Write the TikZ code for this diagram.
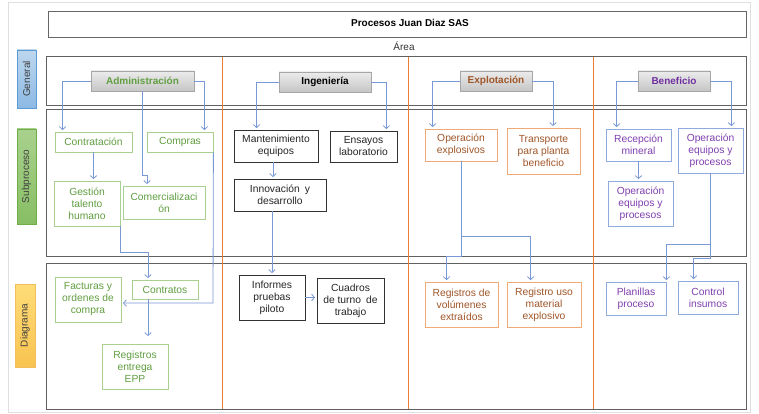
\documentclass[tikz,border=0pt]{standalone}
\usepackage{fontspec}
\setmainfont{Liberation Sans}
\usetikzlibrary{arrows.meta,calc}
\definecolor{conn}{RGB}{120,152,214}
\definecolor{gborder}{RGB}{169,208,142}
\definecolor{gtext}{RGB}{96,158,64}
\definecolor{oborder}{RGB}{240,170,120}
\definecolor{otext}{RGB}{160,86,40}
\definecolor{bborder}{RGB}{143,170,220}
\definecolor{btext}{RGB}{128,64,176}
\definecolor{kborder}{RGB}{50,50,50}
\definecolor{orangeline}{RGB}{237,125,49}
\definecolor{rowframe}{RGB}{96,96,96}
\definecolor{genborder}{RGB}{91,155,213}
\definecolor{gentop}{RGB}{189,215,238}
\definecolor{genbot}{RGB}{140,185,228}
\definecolor{subborder}{RGB}{112,173,71}
\definecolor{subtop}{RGB}{169,209,142}
\definecolor{subbot}{RGB}{135,190,100}
\definecolor{diaborder}{RGB}{240,190,90}
\definecolor{diatop}{RGB}{255,220,120}
\definecolor{diabot}{RGB}{248,195,80}
\definecolor{benhead}{RGB}{112,48,160}
\tikzset{
  sz/.style 2 args={minimum width=#1pt,minimum height=#2pt},
  box/.style={draw, line width=0.8pt, align=center, inner sep=1pt, font=\fontsize{10.3}{12}\selectfont},
  gbox/.style={box, draw=gborder, text=gtext},
  kbox/.style={box, draw=kborder, text=black!85},
  obox/.style={box, draw=oborder, text=otext},
  bbox/.style={box, draw=bborder, text=btext},
  head/.style={draw=gray!70, line width=0.6pt, top color=gray!15, bottom color=gray!45, font=\bfseries\fontsize{10}{12}\selectfont, inner sep=1pt},
  side/.style={draw, line width=0.8pt, rotate=90, inner sep=1pt, text=black!75, font=\fontsize{10}{12}\selectfont},
  ln/.style={draw=conn, line width=0.8pt},
  arr/.style={ln, -{Straight Barb[length=3pt,width=6.5pt]}, shorten >=1.5pt},
  rowbox/.style={draw=rowframe, line width=1pt},
  vline/.style={draw=orangeline, line width=1pt}
}
\begin{document}
\begin{tikzpicture}[x=1pt,y=-1pt]
% background and outer frame
\fill[white] (0,0) rectangle (759,414);
\draw[gray!25, line width=1pt] (8,3) rectangle (750,412);

% title
\node[draw=gray!80!black, line width=0.8pt, sz={698}{26}] (title) at (397,24) {};
\node[font=\bfseries\fontsize{10}{12}\selectfont] (titletext) at (410,23) {Procesos Juan Diaz SAS};
\node[font=\fontsize{10}{12}\selectfont, text=black!80] (area) at (404,46) {Área};

% rows
\draw[rowbox] (46,57) rectangle (746,106);
\draw[rowbox] (46,110) rectangle (746,256);
\draw[rowbox] (46,263) rectangle (746,409);

% column separators
\draw[vline] (222,57) -- (222,409);
\draw[vline] (408,57) -- (408,409);
\draw[vline] (593,57) -- (593,409);

% side labels
\node[side, draw=genborder, top color=gentop, bottom color=genbot, sz={58}{19}] (lgeneral) at (26.5,79) {General};
\node[side, draw=subborder, top color=subtop, bottom color=subbot, sz={95}{19}] (lsub) at (26.5,176.5) {Subproceso};
\node[side, draw=diaborder, top color=diatop, bottom color=diabot, sz={83}{20}] (ldiag) at (25,325.5) {Diagrama};

% headers
\node[head, text=gtext, sz={103}{20}] (adm) at (142.5,81) {Administración};
\node[head, text=black, sz={92}{20}] (ing) at (325,82) {Ingeniería};
\node[head, text=otext, sz={72}{20}] (expl) at (496,81) {Explotación};
\node[head, text=benhead, sz={72}{20}] (benef) at (674,81) {Beneficio};

% Administracion boxes
\node[gbox, sz={77}{20}] (contrat) at (93.5,142) {Contratación};
\node[gbox, sz={66}{20}] (compras) at (180,142) {Compras};
\node[gbox, sz={66}{45}] (gestion) at (87,203.5) {Gestión\\talento\\humano};
\node[gbox, sz={82}{33}] (comer) at (164,202.5) {Comercializaci\\ón};
\node[gbox, sz={66}{45}] (facturas) at (88,299.5) {Facturas y\\ordenes de\\compra};
\node[gbox, sz={66}{19}] (contratos) at (165,289.5) {Contratos};
\node[gbox, sz={66}{45}] (regepp) at (135,366.5) {Registros\\entrega\\EPP};

% Ingenieria boxes
\node[kbox, sz={84}{32}] (mant) at (276,146) {Mantenimiento\\equipos};
\node[kbox, sz={67}{31}] (ensayos) at (363.5,146.5) {Ensayos\\laboratorio};
\node[kbox, sz={92}{32}] (innov) at (280,195) {Innovación\enspace y\\desarrollo};
\node[kbox, sz={66}{45}] (informes) at (272,297.5) {Informes\\pruebas\\piloto};
\node[kbox, sz={67}{45}] (cuadros) at (350.5,300.5) {Cuadros\\de turno\enspace de\\trabajo};

% Explotacion boxes
\node[obox, sz={72}{32}] (opexp) at (461,145) {Operación\\explosivos};
\node[obox, sz={73}{46}] (transp) at (543.5,151) {Transporte\\para planta\\beneficio};
\node[obox, sz={73}{45}] (regvol) at (461.5,304.5) {Registros de\\volúmenes\\extraídos};
\node[obox, sz={74}{45}] (reguso) at (544,304.5) {Registro uso\\material\\explosivo};

% Beneficio boxes
\node[bbox, sz={65}{32}] (recep) at (638.5,145) {Recepción\\mineral};
\node[bbox, sz={65}{45}] (opeq1) at (710.5,150.5) {Operación\\equipos y\\procesos};
\node[bbox, sz={65}{45}] (opeq2) at (640.5,203.5) {Operación\\equipos y\\procesos};
\node[bbox, sz={60}{33}] (planillas) at (636,298.5) {Planillas\\proceso};
\node[bbox, sz={60}{33}] (control) at (708,297.5) {Control\\insumos};

% waypoints
\coordinate (c1) at (147,175);
\coordinate (g1) at (148,252);
\coordinate (f1) at (213,303);
\coordinate (e1) at (461,236);
\coordinate (e2) at (461,256);
\coordinate (b1) at (710.5,244);
\coordinate (b2) at (710.5,258);

% Administracion connectors
\draw[arr] (adm.west) -| ([xshift=8pt]contrat.north west);
\draw[arr] (adm.east) -| ([xshift=-9pt]compras.north east);
\draw[arr] (adm.south) |- (c1) -- (c1 |- comer.north);
\draw[arr] (contrat.south) -- (contrat.south |- gestion.north);
\draw[arr] (gestion.south east) |- (g1) -- (g1 |- contratos.north);
\draw[arr] (compras.south east) -- (f1) -- (f1 -| facturas.east);
\draw[arr] (g1 |- contratos.south) -- ([yshift=6pt]g1 |- regepp.north);

% Ingenieria connectors
\draw[arr] (ing.west) -| ([xshift=23pt]mant.north west);
\draw[arr] (ing.east) -| ([xshift=-11pt]ensayos.north east);
\draw[arr] ([xshift=-3pt]mant.south) -- ([xshift=-3pt]mant.south |- innov.north);
\draw[arr] (informes.north |- innov.south) -- (informes.north);
\draw[arr] (informes.east) -- (cuadros.west |- informes.east);

% Explotacion connectors
\draw[arr] (expl.west) -| ([xshift=8pt]opexp.north west);
\draw[arr] (expl.east) -| ([xshift=9.5pt]transp.north);
\draw[arr] (opexp.south) -- (e1) -| ([xshift=24pt]reguso.north west);
\draw[arr] (e1) -- (e2) -| ([xshift=22pt]regvol.north west);

% Beneficio connectors
\draw[arr] (benef.west) -| ([xshift=11pt]recep.north west);
\draw[arr] (benef.east) -| ([xshift=-12pt]opeq1.north east);
\draw[arr] (recep.south) -- (recep.south |- opeq2.north);
\draw[arr] (opeq1.south) -- (b1) -| (planillas.north east);
\draw[arr] (b1) -- (b2) -| ([xshift=16pt]control.north west);
\end{tikzpicture}
\end{document}
